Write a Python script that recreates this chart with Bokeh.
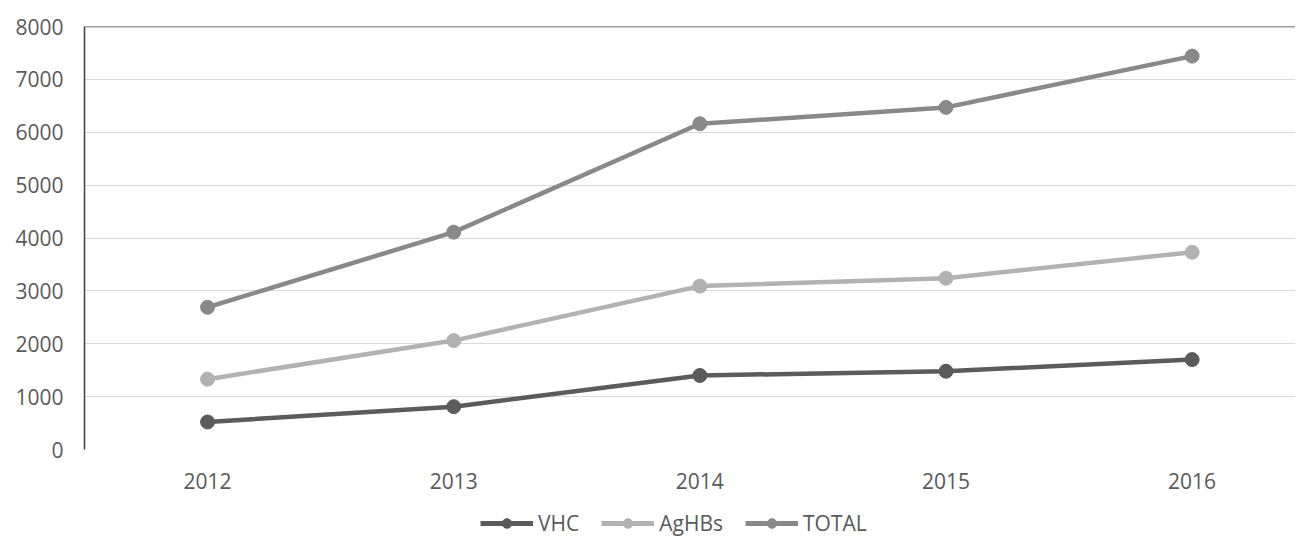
from bokeh.plotting import figure
from bokeh.layouts import column
from bokeh.models import Range1d, Span, Legend, LegendItem, FixedTicker
from bokeh.embed import file_html
from bokeh.resources import INLINE

years = [2012, 2013, 2014, 2015, 2016]
vhc = [520, 810, 1400, 1480, 1700]
aghbs = [1330, 2060, 3090, 3240, 3730]
total = [2690, 4110, 6160, 6470, 7440]
series_names = ["VHC", "AgHBs", "TOTAL"]
series_colors = ["#5b5b5b", "#b2b2b2", "#898989"]
y_ticks = [0, 1000, 2000, 3000, 4000, 5000, 6000, 7000, 8000]

FONT = "Open Sans"
TXT = "#595959"
FS = "21px"
W = 1295

p = figure(width=W, height=500, output_backend="svg", toolbar_location=None,
           x_range=Range1d(2011.5, 2016.42), y_range=Range1d(0, 8000),
           min_border_left=84, min_border_right=0, min_border_top=26,
           min_border_bottom=51)
p.outline_line_color = None
p.background_fill_color = "white"

p.xaxis.ticker = FixedTicker(ticks=years)
p.yaxis.ticker = FixedTicker(ticks=y_ticks)
for ax in (p.xaxis[0], p.yaxis[0]):
    ax.major_label_text_font = FONT
    ax.major_label_text_font_size = FS
    ax.major_label_text_color = TXT
    ax.major_tick_line_color = None
    ax.minor_tick_line_color = None
p.xaxis.axis_line_color = None
p.xaxis.major_label_standoff = 17
p.yaxis.axis_line_color = "#404040"
p.yaxis.axis_line_width = 1.5
p.yaxis.major_label_standoff = 15
p.xgrid.grid_line_color = None
p.ygrid.grid_line_color = "#d9d9d9"
p.ygrid.grid_line_width = 1

p.add_layout(Span(location=8000, dimension="width", line_color="#404040", line_width=1.5))

for name, vals, col in zip(series_names, [vhc, aghbs, total], series_colors):
    p.line(years, vals, line_color=col, line_width=4.5)
    p.scatter(years, vals, size=14, fill_color=col, line_color=col)

# legend figure
lg = figure(width=W, height=37, output_backend="svg", toolbar_location=None,
            x_range=Range1d(0, 1), y_range=Range1d(0, 1),
            x_axis_type=None, y_axis_type=None,
            min_border_left=0, min_border_right=0, min_border_top=0, min_border_bottom=0)
lg.outline_line_color = None
lg.grid.visible = False
items = []
for name, col in zip(series_names, series_colors):
    r1 = lg.line([-10, -9], [-10, -9], line_color=col, line_width=5)
    r2 = lg.scatter([-10], [-10], size=14, fill_color=col, line_color=col)
    items.append(LegendItem(label=name, renderers=[r1, r2]))

legend = Legend(items=items, orientation="horizontal", location=(396, 0),
                label_text_font=FONT, label_text_font_size=FS, label_text_color=TXT,
                glyph_width=53, glyph_height=24, label_standoff=5, spacing=22,
                padding=0, margin=0, border_line_color=None, background_fill_alpha=0)
lg.add_layout(legend, "center")

layout = column(p, lg, spacing=0)
open("out.html", "w").write(file_html(layout, INLINE))
